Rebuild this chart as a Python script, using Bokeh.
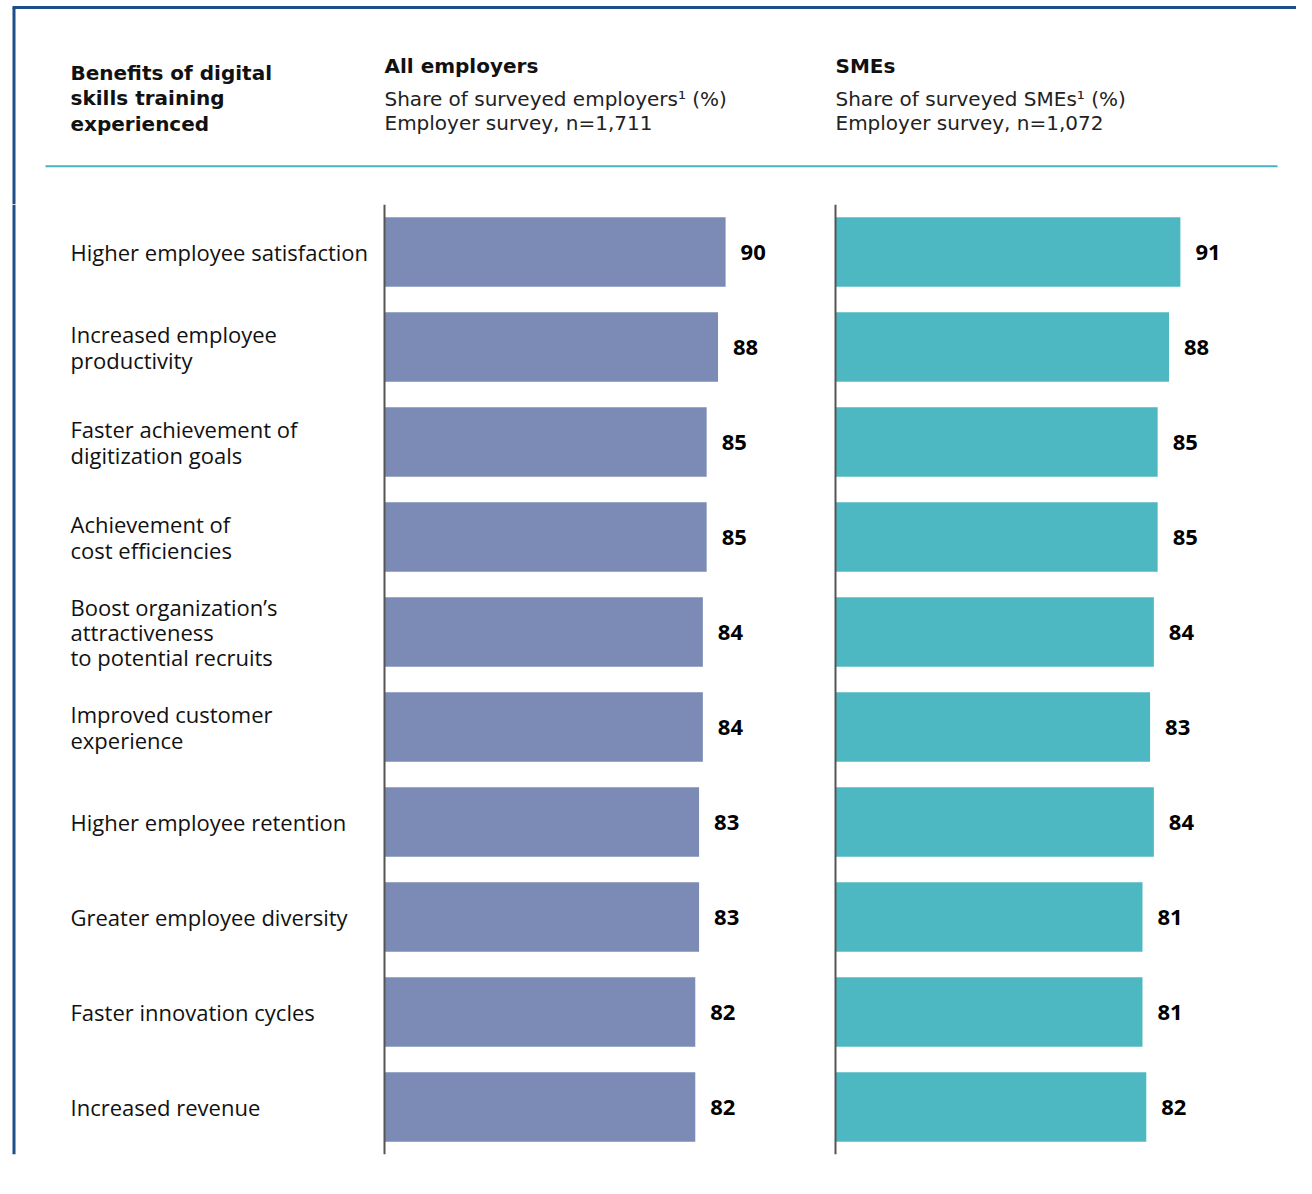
from bokeh.plotting import figure
from bokeh.models import Range1d, FactorRange, ColumnDataSource, Span
from bokeh.layouts import column, row
from bokeh.embed import file_html
from bokeh.resources import INLINE
from bokeh.core.properties import value

# ---------------- data ----------------
categories = [
    "Higher employee satisfaction",
    "Increased employee\nproductivity",
    "Faster achievement of\ndigitization goals",
    "Achievement of\ncost efficiencies",
    "Boost organization\u2019s\nattractiveness\nto potential recruits",
    "Improved customer\nexperience",
    "Higher employee retention",
    "Greater employee diversity",
    "Faster innovation cycles",
    "Increased revenue",
]
all_employers = [90, 88, 85, 85, 84, 84, 83, 83, 82, 82]
smes = [91, 88, 85, 85, 84, 83, 84, 81, 81, 82]

title_lines = ["Benefits of digital", "skills training", "experienced"]
panel_titles = ["All employers", "SMEs"]
panel_sub1 = ["Share of surveyed employers\u00b9 (%)", "Share of surveyed SMEs\u00b9 (%)"]
panel_sub2 = ["Employer survey, n=1,711", "Employer survey, n=1,072"]

# ---------------- style ----------------
BORDER = "#1d4e89"
TEAL_RULE = "#4ab3bb"
C_ALL = "#7b8bb5"
C_SME = "#4db8c2"
AXIS_C = "#555555"
HEAD_FONT = "DejaVu Sans"
BODY_FONT = "Open Sans"

W = 1296
HEAD_H = 204
BODY_H = 974
PX = 3.79  # pixels per percentage point


def bare(fig):
    fig.grid.visible = False
    fig.outline_line_color = None
    fig.background_fill_color = "white"
    fig.border_fill_color = "white"
    return fig


# ---------------- header ----------------
header = bare(figure(width=W, height=HEAD_H, x_range=Range1d(0, W), y_range=Range1d(HEAD_H, 0),
                     output_backend="svg", toolbar_location=None, min_border=0,
                     x_axis_location=None, y_axis_location=None))
# frame border
header.segment(x0=[12], y0=[7], x1=[W], y1=[7], line_color=BORDER, line_width=3)
header.segment(x0=[13.5], y0=[7], x1=[13.5], y1=[HEAD_H], line_color=BORDER, line_width=3)
# teal rule
header.segment(x0=[45], y0=[165.7], x1=[1277], y1=[165.7], line_color=TEAL_RULE, line_width=2)

header.text(x=[70] * 3, y=[72, 97.5, 123], text=title_lines, text_font=value(HEAD_FONT),
            text_font_style="bold", text_font_size="20px", text_color="#111111",
            text_baseline="alphabetic", text_align="left")
for px0, t, s1, s2 in zip([384, 835], panel_titles, panel_sub1, panel_sub2):
    header.text(x=[px0], y=[65.3], text=[t], text_font=value(HEAD_FONT), text_font_style="bold",
                text_font_size="20px", text_color="#111111", text_baseline="alphabetic")
    header.text(x=[px0, px0], y=[98.7, 122.7], text=[s1, s2], text_font=value(HEAD_FONT),
                text_font_size="20px", text_color="#222222", text_baseline="alphabetic")

# ---------------- body ----------------
yr = FactorRange(factors=list(reversed(categories)))

border_fig = bare(figure(width=18, height=BODY_H, x_range=Range1d(0, 18), y_range=Range1d(BODY_H, 0),
                         output_backend="svg", toolbar_location=None, min_border=0,
                         x_axis_location=None, y_axis_location=None))
border_fig.segment(x0=[13.5], y0=[0], x1=[13.5], y1=[BODY_H], line_color=BORDER, line_width=3)

label_fig = bare(figure(width=364, height=BODY_H, x_range=Range1d(-52, 312), y_range=yr,
                        output_backend="svg", toolbar_location=None, min_border=0,
                        min_border_bottom=24, x_axis_location=None, y_axis_location=None))
label_fig.text(x=[0] * len(categories), y=categories, text=categories, text_font=value(BODY_FONT),
               text_font_size="22px", text_color="#111111", text_baseline="middle",
               text_align="left", text_line_height=0.84)


def bar_panel(width, values, color, lead):
    x0 = -lead / PX
    fig = bare(figure(width=width, height=BODY_H, x_range=Range1d(x0, x0 + width / PX), y_range=yr,
                      output_backend="svg", toolbar_location=None, min_border=0,
                      min_border_bottom=24, x_axis_location=None, y_axis_location=None))
    src = ColumnDataSource(dict(cat=categories, v=values, lab=[str(v) for v in values]))
    fig.hbar(y="cat", left=0, right="v", height=0.73, source=src, fill_color=color, line_color=None)
    fig.add_layout(Span(location=0, dimension="height", line_color=AXIS_C, line_width=2))
    fig.text(x="v", y="cat", text="lab", source=src, x_offset=15, text_font=value(BODY_FONT),
             text_font_style="bold", text_font_size="22px", text_color="#000000",
             text_baseline="middle", text_align="left")
    return fig


emp_fig = bar_panel(450, all_employers, C_ALL, 2)
sme_fig = bar_panel(464, smes, C_SME, 3)

layout = column(header, row(border_fig, label_fig, emp_fig, sme_fig, spacing=0), spacing=0)

open("out.html", "w").write(file_html(layout, INLINE))
